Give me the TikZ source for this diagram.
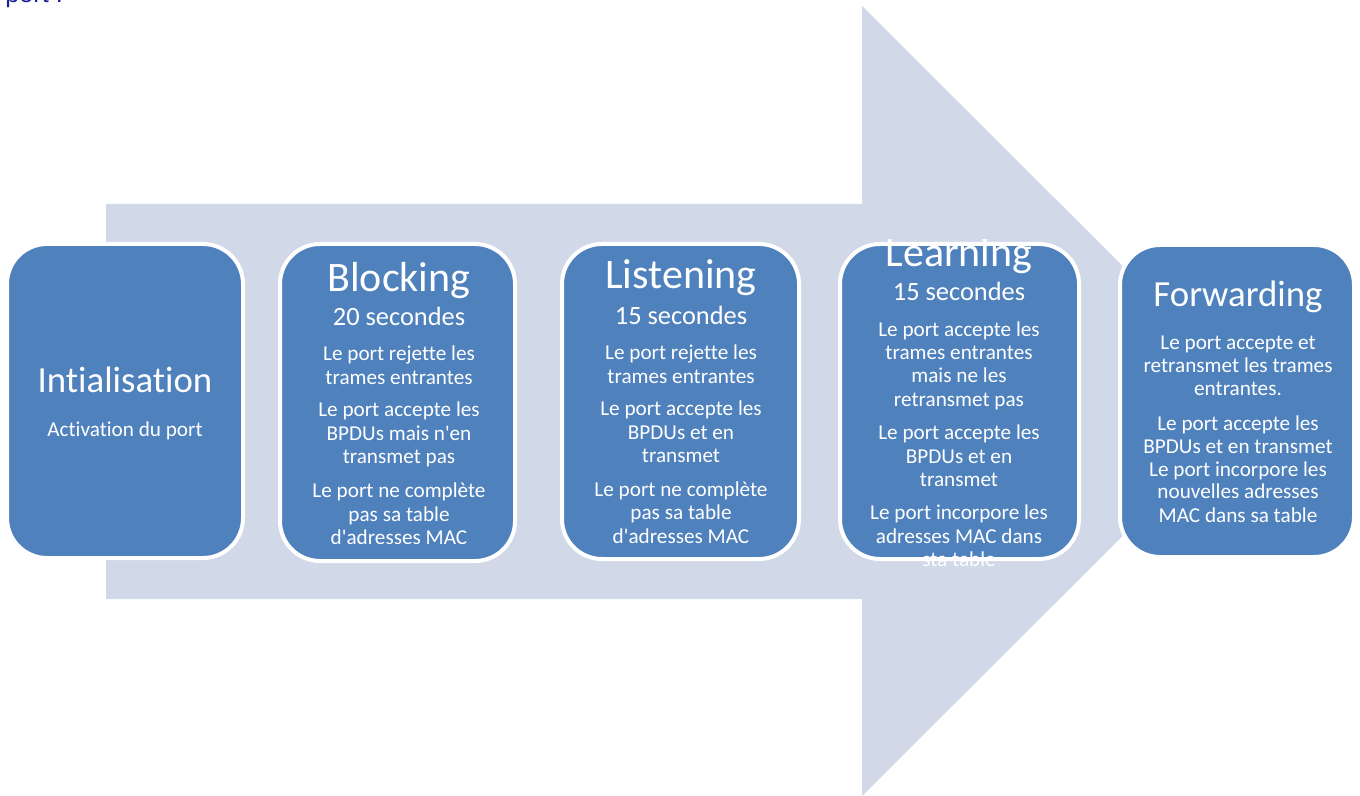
\documentclass[tikz,border=0pt]{standalone}
\usepackage{fontspec}
\setmainfont{Carlito}[Ligatures={NoCommon,TeXOff}]
\newfontfamily\portfont{Liberation Sans}
\definecolor{boxblue}{HTML}{4F81BD}
\definecolor{arrowfill}{HTML}{D1D8E8}
\definecolor{navytext}{RGB}{28,28,150}
\begin{document}
\begin{tikzpicture}[x=0.5pt,y=-0.5pt,
  stage/.style={draw=white, line width=2pt, fill=boxblue, rounded corners=20pt, inner sep=0pt},
  txt/.style={text=white, inner sep=0pt, anchor=base},
  bigtitle/.style={txt, font=\fontsize{21}{25}\selectfont},
  midtitle/.style={txt, font=\fontsize{18.4}{22}\selectfont},
  subtitle/.style={txt, font=\fontsize{13.2}{16}\selectfont},
  body/.style={txt, font=\fontsize{10.6}{12}\selectfont}]
\useasboundingbox (0,0) rectangle (1360,796);
\clip (0,0) rectangle (1360,796);

% caption fragment at top
\node[anchor=base west, inner sep=0pt, text=navytext, font=\portfont\fontsize{12.6}{15}\selectfont] (cap) at (5,3) {port :};

% big arrow
\fill[arrowfill] (106,204) -- (862,204) -- (862,6) -- (1258,401) -- (862,796) -- (862,599) -- (106,599) -- cycle;

% stage boxes
\node[stage, minimum width=118pt, minimum height=157pt] (b1) at (125,401) {};
\node[stage, minimum width=117.5pt, minimum height=158.5pt] (b2) at (397.5,402.5) {};
\node[stage, minimum width=118.5pt, minimum height=157.5pt] (b3) at (680.5,401.5) {};
\node[stage, minimum width=119.5pt, minimum height=157.5pt] (b4) at (959.5,401.5) {};
\node[stage, minimum width=117pt, minimum height=156pt] (b5) at (1237,401) {};

% box 1
\node[midtitle] (t1) at (125,393) {Intialisation};
\node[body] (t1a) at (125,437) {Activation du port};

% box 2
\node[bigtitle] (t2) at (399,292) {Blocking};
\node[subtitle] (s2) at (399,326) {20 secondes};
\node[body] (l2a) at (399,361) {Le port rejette les};
\node[body] (l2b) at (399,385) {trames entrantes};
\node[body] (l2c) at (399,417) {Le port accepte les};
\node[body] (l2d) at (399,441) {BPDUs mais n'en};
\node[body] (l2e) at (399,464) {transmet pas};
\node[body] (l2f) at (399,497) {Le port ne complète};
\node[body] (l2g) at (399,521) {pas sa table};
\node[body] (l2h) at (399,545) {d'adresses MAC};

% box 3
\node[bigtitle] (t3) at (681,289) {Listening};
\node[subtitle] (s3) at (681,325) {15 secondes};
\node[body] (l3a) at (681,360) {Le port rejette les};
\node[body] (l3b) at (681,384) {trames entrantes};
\node[body] (l3c) at (681,416) {Le port accepte les};
\node[body] (l3d) at (681,440) {BPDUs et en};
\node[body] (l3e) at (681,463) {transmet};
\node[body] (l3f) at (681,496) {Le port ne complète};
\node[body] (l3g) at (681,519) {pas sa table};
\node[body] (l3h) at (681,543) {d'adresses MAC};

% box 4 (text overflows and is clipped)
\begin{scope}
\clip (830,240) rectangle (1090,568);
\node[bigtitle] (t4) at (959,267) {Learning};
\node[subtitle] (s4) at (959,301) {15 secondes};
\node[body] (l4a) at (959,337) {Le port accepte les};
\node[body] (l4b) at (959,360) {trames entrantes};
\node[body] (l4c) at (959,383) {mais ne les};
\node[body] (l4d) at (959,407) {retransmet pas};
\node[body] (l4e) at (959,440) {Le port accepte les};
\node[body] (l4f) at (959,464) {BPDUs et en};
\node[body] (l4g) at (959,487) {transmet};
\node[body] (l4h) at (959,519) {Le port incorpore les};
\node[body] (l4i) at (959,543) {adresses MAC dans};
\node[body] (l4j) at (959,567) {sta table};
\end{scope}

% box 5
\node[midtitle] (t5) at (1238,307) {Forwarding};
\node[body] (l5a) at (1238,350) {Le port accepte et};
\node[body] (l5b) at (1238,373) {retransmet les trames};
\node[body] (l5c) at (1238,396) {entrantes.};
\node[body] (l5d) at (1238,430) {Le port accepte les};
\node[body] (l5e) at (1238,453) {BPDUs et en transmet};
\node[body] (l5f) at (1238,476) {Le port incorpore les};
\node[body] (l5g) at (1238,499) {nouvelles adresses};
\node[body] (l5h) at (1238,523) {MAC dans sa table};
\end{tikzpicture}
\end{document}
